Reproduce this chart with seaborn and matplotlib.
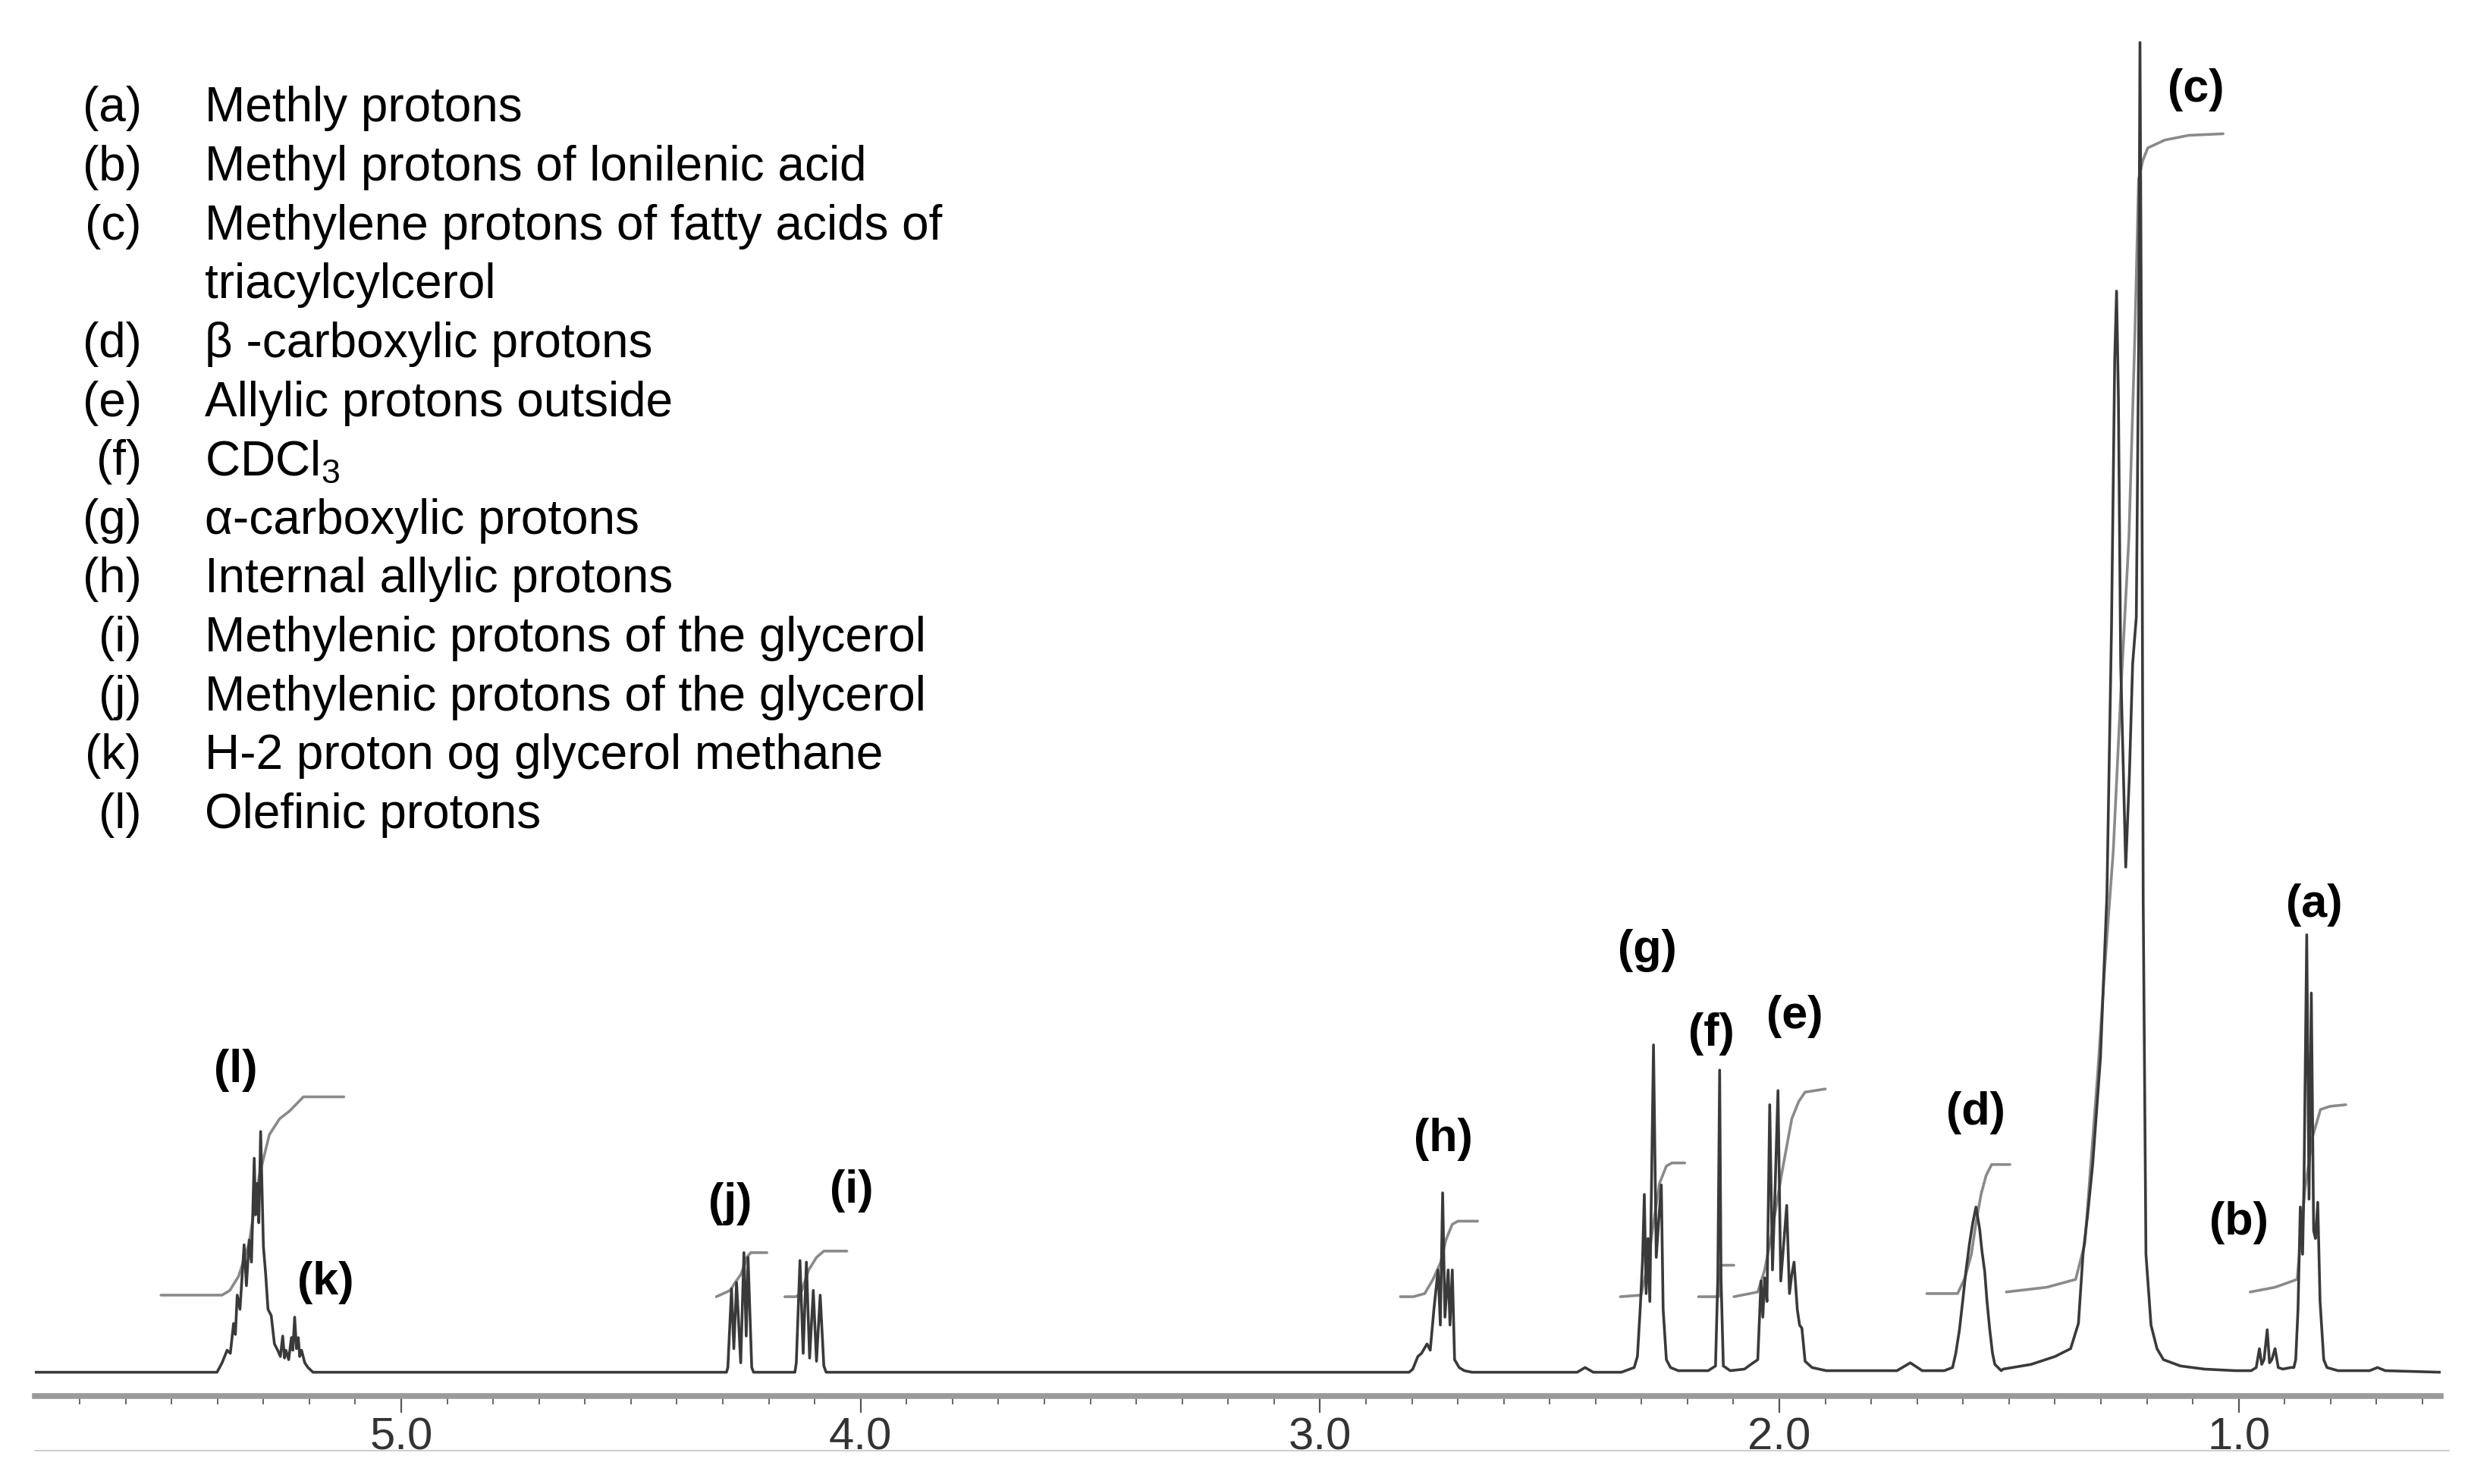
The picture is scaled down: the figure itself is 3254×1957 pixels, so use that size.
import matplotlib
matplotlib.use('Agg')
import matplotlib.pyplot as plt
import pandas as pd
import seaborn as sns
from matplotlib.ticker import MultipleLocator, FormatStrFormatter
from matplotlib.lines import Line2D

# Spectrum trace: chemical shift (ppm) and intensity (a.u.)
edge_left = ([5.798], [0])

l_ppm = [5.401, 5.390, 5.379, 5.372, 5.365, 5.361, 5.357, 5.351, 5.342, 5.337, 5.331, 5.326,
         5.320, 5.317, 5.313, 5.310, 5.306, 5.300, 5.295, 5.290, 5.283, 5.276, 5.269, 5.263,
         5.258, 5.254, 5.251, 5.245, 5.239, 5.236, 5.232, 5.228, 5.224, 5.221, 5.217, 5.210,
         5.203, 5.192]
l_int = [0, 6, 14, 12, 31, 24, 49, 40, 81, 55, 84, 70,
         136, 100, 120, 95, 153, 80, 62, 40, 36, 18, 14, 10,
         23, 9, 14, 8, 22, 14, 35, 15, 22, 10, 14, 6,
         3, 0]

j_ppm = [4.292, 4.289, 4.281, 4.276, 4.270, 4.261, 4.254, 4.249, 4.245, 4.237, 4.233]
j_int = [0, 3, 53, 15, 57, 6, 76, 23, 73, 3, 0]

i_ppm = [4.143, 4.140, 4.132, 4.125, 4.118, 4.111, 4.103, 4.096, 4.088, 4.080, 4.075]
i_int = [0, 6, 71, 12, 70, 9, 52, 7, 49, 4, 0]

h_ppm = [2.806, 2.798, 2.787, 2.779, 2.767, 2.760, 2.752, 2.743, 2.738, 2.733, 2.728, 2.721,
         2.717, 2.712, 2.707, 2.697, 2.686, 2.669, 2.440, 2.423, 2.405]
h_int = [0, 2, 10, 12, 18, 14, 40, 65, 30, 114, 35, 65,
         30, 65, 8, 3, 1, 0, 0, 3, 0]

g_ppm = [2.344, 2.316, 2.309, 2.303, 2.298, 2.294, 2.290, 2.286, 2.282, 2.274, 2.268, 2.263,
         2.257, 2.253, 2.246, 2.237, 2.220]
g_int = [0, 3, 10, 40, 70, 113, 50, 85, 45, 208, 73, 95,
         119, 40, 8, 3, 1]

f_ppm = [2.155, 2.139, 2.134, 2.130, 2.127, 2.122, 2.107]
f_int = [1, 4, 60, 192, 60, 4, 1]

e_ppm = [2.076, 2.062, 2.047, 2.040, 2.036, 2.032, 2.027, 2.021, 2.015, 2.010, 2.003, 1.997,
         1.991, 1.984, 1.978, 1.973, 1.968, 1.961, 1.956, 1.951, 1.944, 1.929, 1.898,
         1.744, 1.715, 1.689]
e_int = [2, 5, 8, 58, 35, 60, 45, 170, 65, 110, 179, 58,
         80, 106, 50, 62, 70, 40, 30, 28, 7, 3, 1,
         1, 6, 1]

d_ppm = [1.641, 1.623, 1.616, 1.608, 1.601, 1.594, 1.586, 1.579, 1.572, 1.564, 1.559, 1.553,
         1.548, 1.542, 1.536, 1.531, 1.517]
d_int = [1, 3, 12, 27, 45, 64, 82, 95, 105, 91, 77, 64,
         45, 27, 12, 5, 1]

c_ppm = [1.513, 1.452, 1.400, 1.366, 1.349, 1.339, 1.329, 1.318, 1.301, 1.287, 1.277, 1.270,
         1.266, 1.262, 1.257, 1.246, 1.238, 1.231, 1.223, 1.218, 1.215, 1.211, 1.208, 1.202,
         1.191, 1.178, 1.164, 1.127, 1.075, 1.007]
c_int = [2, 5, 10, 15, 31, 75, 100, 132, 200, 303, 473, 644,
         687, 620, 450, 321, 380, 450, 480, 650, 845, 600, 300, 75,
         30, 15, 8, 4, 2, 1]

b_ppm = [0.973, 0.962, 0.955, 0.950, 0.945, 0.938, 0.933, 0.928, 0.921, 0.914, 0.904, 0.887]
b_int = [1, 3, 15, 5, 8, 27, 6, 8, 15, 3, 2, 3]

a_ppm = [0.880, 0.876, 0.871, 0.866, 0.861, 0.858, 0.852, 0.847, 0.842, 0.837, 0.833, 0.828,
         0.823, 0.815, 0.808, 0.784, 0.715, 0.698, 0.681, 0.561]
a_int = [3, 8, 40, 105, 75, 120, 278, 110, 241, 90, 85, 108,
         45, 8, 3, 1, 1, 3, 1, 0]

# Integral curves (ppm, height)
int_l_ppm = [5.523, 5.390, 5.373, 5.354, 5.331, 5.309, 5.287, 5.265, 5.243, 5.213, 5.125]
int_l_val = [49, 49, 52, 61, 82, 125, 151, 161, 166, 175, 175]
int_j_ppm = [4.314, 4.284, 4.273, 4.261, 4.253, 4.248, 4.239, 4.204]
int_j_val = [48, 52, 57, 62, 68, 73, 76, 76]
int_i_ppm = [4.165, 4.140, 4.129, 4.113, 4.096, 4.080, 4.030]
int_i_val = [48, 48, 51, 65, 73, 77, 77]
int_h_ppm = [2.825, 2.797, 2.772, 2.754, 2.737, 2.726, 2.712, 2.700, 2.657]
int_h_val = [48, 48, 50, 59, 70, 84, 94, 96, 96]
int_g_ppm = [2.346, 2.301, 2.287, 2.275, 2.261, 2.246, 2.234, 2.206]
int_g_val = [48, 49, 68, 93, 120, 131, 133, 133]
int_f_ppm = [2.176, 2.132, 2.128, 2.099]
int_f_val = [48, 48, 68, 68]
int_e_ppm = [2.099, 2.047, 2.032, 2.018, 1.995, 1.973, 1.958, 1.944, 1.900]
int_e_val = [48, 51, 65, 86, 126, 161, 172, 178, 180]
int_d_ppm = [1.679, 1.612, 1.596, 1.582, 1.572, 1.561, 1.550, 1.538, 1.498]
int_d_val = [50, 50, 60, 75, 95, 113, 125, 132, 132]
int_c_ppm = [1.506, 1.418, 1.355, 1.335, 1.307, 1.291, 1.273, 1.257, 1.239, 1.226, 1.218,
             1.209, 1.198, 1.161, 1.109, 1.034]
int_c_val = [51, 54, 59, 82, 190, 260, 332, 430, 531, 660, 758,
             770, 778, 783, 786, 787]
int_a_ppm = [0.975, 0.921, 0.873, 0.865, 0.856, 0.839, 0.822, 0.801, 0.767]
int_a_val = [51, 54, 59, 85, 116, 150, 167, 169, 170]

# Peak tags
tag_text = ['(a)', '(b)', '(c)', '(d)', '(e)', '(f)', '(g)', '(h)', '(i)', '(j)', '(k)', '(l)']
tag_ppm = [0.835, 1.000, 1.093, 1.572, 1.966, 2.148, 2.288, 2.731, 4.020, 4.284, 5.165, 5.360]
tag_h = [297, 95, 815, 165, 226, 215, 268, 148, 115, 107, 57, 192]

# Assignment list
legend_keys = ['(a)', '(b)', '(c)', '', '(d)', '(e)', '(f)', '(g)', '(h)', '(i)', '(j)', '(k)', '(l)']
legend_texts = ['Methly protons', 'Methyl protons of lonilenic acid',
                'Methylene protons of fatty acids of', 'triacylcylcerol',
                '\u03b2 -carboxylic protons', 'Allylic protons outside', 'CDCl$_3$',
                '\u03b1-carboxylic protons', 'Internal allylic protons',
                'Methylenic protons of the glycerol', 'Methylenic protons of the glycerol',
                'H-2 proton og glycerol methane', 'Olefinic protons']

# Build tables
spec_ppm = edge_left[0] + l_ppm + j_ppm + i_ppm + h_ppm + g_ppm + f_ppm + e_ppm + d_ppm + c_ppm + b_ppm + a_ppm
spec_int = edge_left[1] + l_int + j_int + i_int + h_int + g_int + f_int + e_int + d_int + c_int + b_int + a_int
spec = pd.DataFrame({'ppm': spec_ppm, 'intensity': spec_int})

integrals = []
for name, xs, ys in [('l', int_l_ppm, int_l_val), ('j', int_j_ppm, int_j_val),
                     ('i', int_i_ppm, int_i_val), ('h', int_h_ppm, int_h_val),
                     ('g', int_g_ppm, int_g_val), ('f', int_f_ppm, int_f_val),
                     ('e', int_e_ppm, int_e_val), ('d', int_d_ppm, int_d_val),
                     ('c', int_c_ppm, int_c_val), ('a', int_a_ppm, int_a_val)]:
    integrals.append(pd.DataFrame({'ppm': xs, 'value': ys, 'peak': name}))
integ = pd.concat(integrals, ignore_index=True)

# Style
sns.set_style('white')
plt.rcParams['font.family'] = ['Liberation Sans', 'DejaVu Sans']
plt.rcParams['mathtext.default'] = 'regular'

fig = plt.figure(figsize=(32.55, 19.57), dpi=100)
ax = fig.add_axes([0.01403, 0.0594, 0.97449, 0.9406])

sns.lineplot(data=integ, x='ppm', y='value', units='peak', estimator=None, sort=False,
             color='#8a8a8a', linewidth=2.6, ax=ax)
sns.lineplot(data=spec, x='ppm', y='intensity', estimator=None, sort=False,
             color='#3a3a3a', linewidth=2.6, ax=ax)

ax.set_xlim(5.798, 0.561)
ax.set_ylim(-15, 872)
ax.set_xlabel('')
ax.set_ylabel('')
ax.set_yticks([])
sns.despine(ax=ax, left=True)
ax.spines['bottom'].set_color('#9a9a9a')
ax.spines['bottom'].set_linewidth(5.5)

ax.xaxis.set_major_locator(MultipleLocator(1.0))
ax.xaxis.set_minor_locator(MultipleLocator(0.1))
ax.xaxis.set_major_formatter(FormatStrFormatter('%.1f'))
ax.tick_params(axis='x', which='major', direction='out', length=16, width=1.6,
               color='#555555', labelsize=43, labelcolor='#333333', pad=4, bottom=True)
ax.tick_params(axis='x', which='minor', direction='out', length=8, width=1.4,
               color='#666666', bottom=True)

for t, x, y in zip(tag_text, tag_ppm, tag_h):
    ax.text(x, y, t, ha='center', va='center', fontsize=44, fontweight='bold', color='black')

# Assignment list in the upper left
row_y = 0.9268
for key, txt in zip(legend_keys, legend_texts):
    fig.text(0.0574, row_y, key, ha='right', va='center', fontsize=46, color='black')
    fig.text(0.0829, row_y, txt, ha='left', va='center', fontsize=46, color='black')
    row_y -= 0.03968

# thin frame line under the scale
fig.add_artist(Line2D([0.014, 0.992], [0.0223, 0.0223], transform=fig.transFigure,
                      color='#cfcfcf', linewidth=1.5))

fig.savefig('out.png', dpi=100)
